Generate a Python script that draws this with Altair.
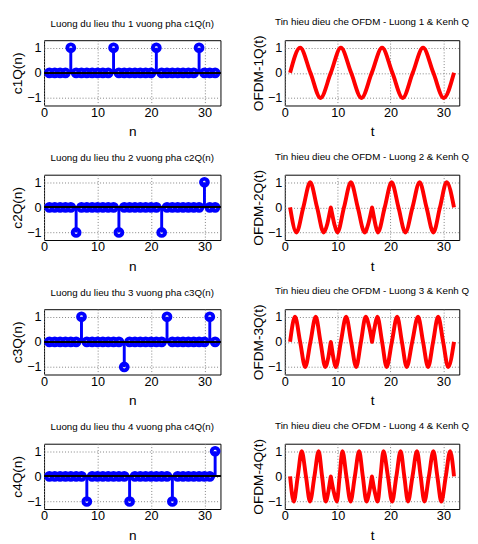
import altair as alt
import pandas as pd

# ---------------- data ----------------
n_vals = list(range(1, 33))
c1Q = [0, 0, 0, 0, 1, 0, 0, 0, 0, 0, 0, 0, 1, 0, 0, 0,
       0, 0, 0, 0, 1, 0, 0, 0, 0, 0, 0, 0, 1, 0, 0, 0]
c2Q = [0, 0, 0, 0, 0, -1, 0, 0, 0, 0, 0, 0, 0, -1, 0, 0,
       0, 0, 0, 0, 0, -1, 0, 0, 0, 0, 0, 0, 0, 1, 0, 0]
c3Q = [0, 0, 0, 0, 0, 0, 1, 0, 0, 0, 0, 0, 0, 0, -1, 0,
       0, 0, 0, 0, 0, 0, 1, 0, 0, 0, 0, 0, 0, 0, 1, 0]
c4Q = [0, 0, 0, 0, 0, 0, 0, -1, 0, 0, 0, 0, 0, 0, 0, -1,
       0, 0, 0, 0, 0, 0, 0, -1, 0, 0, 0, 0, 0, 0, 0, 1]

t1 = [1, 2.9, 4.85, 6.75, 8.7, 10.6, 12.55, 14.5, 16.45, 18.4, 20.35, 22.3,
      24.2, 26.15, 28.1, 30.05, 32]
y1 = [0, 1, 0, -1, 0, 1, 0, -1, 0, 1, 0, -1, 0, 1, 0, -1, 0]

t2 = [1, 2.2, 3.5, 4.8, 6.1, 7.35, 8.05, 8.6, 8.7, 8.8, 9.35, 9.95, 11.2, 12.5,
      13.8, 15.1, 15.8, 16.4, 16.5, 16.6, 17.1, 17.6, 18.9, 20.2, 21.5, 22.8,
      24.15, 25.5, 26.8, 28.1, 29.35, 30.6, 32]
y2 = [0, -1, 0, 1, 0, -1, -0.65, -0.1, 0, -0.1, -0.65, -1, 0, 1, 0, -1, -0.65,
      -0.1, 0, -0.1, -0.65, -1, 0, 1, 0, -1, 0, 1, 0, -1, 0, 1, 0]

t3 = [1, 1.93, 2.9, 3.86, 4.85, 5.85, 6.75, 7.66, 8.2, 8.62, 8.7, 8.78, 9.2,
      9.66, 10.6, 11.6, 12.55, 13.5, 14.4, 15.3, 15.9, 16.42, 16.5, 16.58,
      17.05, 17.5, 18.4, 19.26, 20.25, 21.25, 22.15, 23.06, 24.1, 25.2, 26.15,
      27.1, 28.05, 29.0, 29.95, 30.9, 32]
y3 = [0, 1, 0, -1, 0, 1, 0, -1, -0.65, -0.1, 0, -0.1, -0.65, -1, 0, 1, 0, -1,
      0, 1, 0.65, 0.1, 0, 0.1, 0.65, 1, 0, -1, 0, 1, 0, -1, 0, 1, 0, -1, 0, 1,
      0, -1, 0]

t4 = [1, 1.7, 2.45, 3.2, 4.0, 4.76, 5.6, 6.4, 7.05, 7.73, 8.2, 8.62, 8.7, 8.78,
      9.3, 9.84, 10.37, 10.9, 11.65, 12.43, 13.25, 14.06, 14.75, 15.45, 15.95,
      16.4, 16.48, 16.56, 17.05, 17.57, 18.1, 18.66, 19.5, 20.3, 21.1, 21.9,
      22.6, 23.3, 24.15, 25.0, 25.7, 26.4, 27.25, 28.1, 28.85, 29.6, 30.45,
      31.27, 32]
y4 = [0, -1, 0, 1, 0, -1, 0, 1, 0, -1, -0.65, -0.1, 0, -0.1, -0.65, -1, 0, 1,
      0, -1, 0, 1, 0, -1, -0.65, -0.1, 0, -0.1, -0.65, -1, 0, 1, 0, -1, 0, 1,
      0, -1, 0, 1, 0, -1, 0, 1, 0, -1, 0, 1, 0]

stem_titles = [f"Luong du lieu thu {k} vuong pha c{k}Q(n)" for k in range(1, 5)]
wave_titles = [f"Tin hieu dieu che OFDM - Luong {k} & Kenh Q" for k in range(1, 5)]
stem_ylabels = [f"c{k}Q(n)" for k in range(1, 5)]
wave_ylabels = [f"OFDM-{k}Q(t)" for k in range(1, 5)]
x_ticks = [0, 10, 20, 30]
y_ticks = [-1, 0, 1]

# ---------------- style ----------------
FONT = "Liberation Sans, Arial, Helvetica, sans-serif"


def xaxis(title):
    return alt.Axis(title=title, values=x_ticks, tickCount=10, format="d",
                    grid=True, ticks=False, tickSize=0, domain=False,
                    labelPadding=1, titlePadding=6, labelFont=FONT,
                    labelFontSize=13, titleFont=FONT, titleFontSize=14,
                    titleFontWeight="normal", labelColor="black",
                    titleColor="black", gridColor="#808080", gridDash=[1, 2],
                    labelFlush=False, labelOverlap=False)


def yaxis(title):
    return alt.Axis(title=title, values=y_ticks, tickCount=10, format="d",
                    grid=True, ticks=False, tickSize=0, domain=False,
                    labelPadding=3, titlePadding=2, labelFont=FONT,
                    labelFontSize=13, titleFont=FONT, titleFontSize=14,
                    titleFontWeight="normal", labelColor="black",
                    titleColor="black", gridColor="#808080", gridDash=[1, 2],
                    labelFlush=False, labelOverlap=False)


def ttl(text):
    return alt.TitleParams(text=text, font=FONT, fontSize=10,
                           fontWeight="normal", color="black", offset=8,
                           anchor="middle")


xs = alt.Scale(domain=[0, 33], nice=False, zero=False)
ys = alt.Scale(domain=[-1.3, 1.3], nice=False)


def stem(vals, k):
    df = pd.DataFrame({"n": n_vals, "v": vals})
    base = alt.Chart(df)
    x = alt.X("n:Q", scale=xs, axis=xaxis("n"))
    y = alt.Y("v:Q", scale=ys, axis=yaxis(stem_ylabels[k]))
    rules = base.mark_rule(color="#0000FF", strokeWidth=3).encode(
        x=x, y=y, y2=alt.datum(0))
    pts = base.mark_point(shape="circle", filled=False, size=49, strokeWidth=4,
                          color="#0000FF", opacity=1).encode(x=x, y=y)
    baseline = base.mark_rule(color="black", strokeWidth=1.5).encode(
        y=alt.datum(0))
    return alt.layer(rules, pts, baseline).properties(
        width=181, height=67, title=ttl(stem_titles[k]))


def wave(ts, vs, k):
    df = pd.DataFrame({"t": ts, "v": vs})
    line = alt.Chart(df).mark_line(color="#FF0000", strokeWidth=4,
                                   interpolate="monotone").encode(
        x=alt.X("t:Q", scale=xs, axis=xaxis("t")),
        y=alt.Y("v:Q", scale=ys, axis=yaxis(wave_ylabels[k])))
    return line.properties(width=179, height=67, title=ttl(wave_titles[k]))


stems = [c1Q, c2Q, c3Q, c4Q]
waves = [(t1, y1), (t2, y2), (t3, y3), (t4, y4)]

rows = []
for k in range(4):
    rows.append(alt.hconcat(stem(stems[k], k), wave(waves[k][0], waves[k][1], k),
                            spacing=24))

chart = alt.vconcat(*rows, spacing=12).properties(
    padding={"left": 2, "top": 2, "right": 0, "bottom": 0},
    background="white",
).configure_view(stroke="black", strokeWidth=1)

chart.save("out.html", embed_options={"renderer": "svg", "actions": False})
